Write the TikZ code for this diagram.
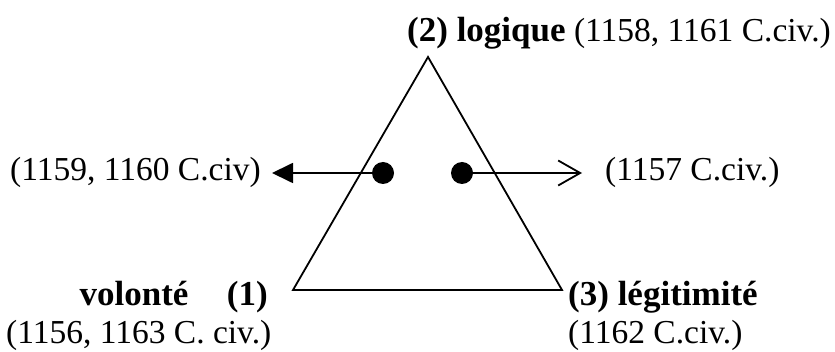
\documentclass[tikz,border=0pt]{standalone}
\usepackage{fontspec}
\setmainfont{Liberation Serif}
\usetikzlibrary{arrows.meta}

\begin{document}
\begin{tikzpicture}[x=1pt,y=-1pt]
\tikzset{
  labeltext/.style={inner sep=0pt,font=\fontsize{33.5}{40}\selectfont},
  boldtext/.style={inner sep=0pt,font=\fontsize{35}{42}\selectfont\bfseries},
  dotnode/.style={circle,fill=black,minimum size=22pt,inner sep=0pt},
  edgeline/.style={draw=black,line width=1.8pt,line join=miter},
  pointer/.style={edgeline,-{Triangle[length=21pt,width=20pt]}},
  openpointer/.style={edgeline,-{Straight Barb[length=22pt,width=25pt]}}
}
\useasboundingbox (0,0) rectangle (835,352);
% triangle
\coordinate (c_top) at (428,57);
\coordinate (c_left) at (293,290);
\coordinate (c_right) at (562,290);
\draw[edgeline] (c_top) -- (c_left) -- (c_right) -- cycle;
% dots and arrows
\node[dotnode] (n_dotL) at (383,173) {};
\node[dotnode] (n_dotR) at (462,173) {};
\coordinate (c_tipL) at (272,173);
\coordinate (c_tipR) at (582,173);
\draw[pointer] (n_dotL.center) -- (c_tipL);
\draw[openpointer] (n_dotR.center) -- (c_tipR);
% labels
\node[labeltext,anchor=base west] (n_logique) at (407,42) {{\fontsize{35}{42}\selectfont\bfseries(2) logique} (1158, 1161 C.civ.)};
\node[labeltext,anchor=base east] (n_art1159) at (261,181) {(1159, 1160 C.civ)};
\node[labeltext,anchor=base west] (n_art1157) at (605,181) {(1157 C.civ.)};
\node[boldtext,anchor=base east] (n_volonte) at (268,306) {volonté\hspace{1.1em}(1)};
\node[labeltext,anchor=base west] (n_art1156) at (6,344) {(1156, 1163 C. civ.)};
\node[boldtext,anchor=base west] (n_legitimite) at (568,306) {(3) légitimité};
\node[labeltext,anchor=base west] (n_art1162) at (568,344) {(1162 C.civ.)};
\end{tikzpicture}
\end{document}
